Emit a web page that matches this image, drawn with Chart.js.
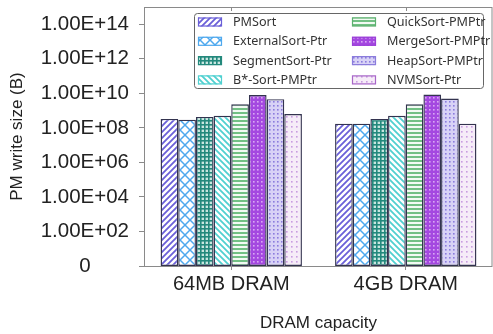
<!DOCTYPE html>
<html>
<head>
<meta charset="utf-8">
<script src="https://cdn.jsdelivr.net/npm/chart.js@4"></script>
<style>
  html, body { margin: 0; padding: 0; background: #fff; }
  #wrap { width: 493px; height: 334px; }
</style>
</head>
<body>
<div id="wrap"><canvas id="myChart" width="493" height="334"></canvas></div>
<script>
/* data */
const CATEGORIES = ['64MB DRAM', '4GB DRAM'];
const LABELS = ['PMSort', 'ExternalSort-Ptr', 'SegmentSort-Ptr', 'B*-Sort-PMPtr',
    'QuickSort-PMPtr', 'MergeSort-PMPtr', 'HeapSort-PMPtr', 'NVMSort-Ptr'];
const pmSort = [3.3e8, 1.75e8];
const externalSort = [3.0e8, 1.75e8];
const segmentSort = [4.3e8, 3.3e8];
const bStarSort = [5.0e8, 5.0e8];
const quickSort = [2.3e9, 2.3e9];
const mergeSort = [7.9e9, 8.5e9];
const heapSort = [4.6e9, 5.0e9];
const nvmSort = [6.3e8, 1.75e8];
const Y_TICKS = [1, 1e2, 1e4, 1e6, 1e8, 1e10, 1e12, 1e14];

// hatch / dot patterns for the bars
function makePattern(kind, color, bg) {
    const size = {diag: 6, back: 6, cross: 10, grid: 4, hline: 4, dots: 4, dotsSparse: 5}[kind];
    const c = document.createElement('canvas');
    c.width = size; c.height = size;
    const g = c.getContext('2d');
    g.fillStyle = bg || '#fff';
    g.fillRect(0, 0, size, size);
    g.strokeStyle = color;
    g.fillStyle = color;
    if (kind === 'diag') {
        g.lineWidth = 1.8;
        g.beginPath();
        g.moveTo(0, size); g.lineTo(size, 0);
        g.moveTo(-size / 2, size / 2); g.lineTo(size / 2, -size / 2);
        g.moveTo(size / 2, size * 1.5); g.lineTo(size * 1.5, size / 2);
        g.stroke();
    } else if (kind === 'back') {
        g.lineWidth = 1.8;
        g.beginPath();
        g.moveTo(0, 0); g.lineTo(size, size);
        g.moveTo(-size / 2, size / 2); g.lineTo(size / 2, size * 1.5);
        g.moveTo(size / 2, -size / 2); g.lineTo(size * 1.5, size / 2);
        g.stroke();
    } else if (kind === 'cross') {
        g.lineWidth = 1.5;
        g.beginPath();
        g.moveTo(0, 0); g.lineTo(size, size);
        g.moveTo(0, size); g.lineTo(size, 0);
        g.stroke();
    } else if (kind === 'grid') {
        g.fillRect(0, 0, size, 1.6);
        g.fillRect(0, 0, 1.6, size);
    } else if (kind === 'hline') {
        g.fillRect(0, 0, size, 2);
    } else if (kind === 'dots' || kind === 'dotsSparse') {
        g.fillRect(1, 1, 1.6, 1.6);
    }
    return g.createPattern(c, 'repeat');
}

const STYLES = [
    {pat: makePattern('diag', '#6a5fd8'), edge: '#6a5fd8'},
    {pat: makePattern('cross', '#4ea8ee'), edge: '#4ea8ee'},
    {pat: makePattern('grid', '#23897c', '#c8e6e0'), edge: '#23897c'},
    {pat: makePattern('back', '#4fd0d0'), edge: '#4fd0d0'},
    {pat: makePattern('hline', '#72c084', '#f2faf3'), edge: '#5cb06e'},
    {pat: makePattern('dots', '#d9a8f4', '#a448e0'), edge: '#9a3fd8'},
    {pat: makePattern('dots', '#8b7cdc', '#d8d2f6'), edge: '#8b7cdc'},
    {pat: makePattern('dotsSparse', '#c89ce0', '#f6ecf8'), edge: '#a866c8'}
];

const SERIES = [pmSort, externalSort, segmentSort, bStarSort, quickSort, mergeSort, heapSort, nvmSort];

const data = {
    labels: CATEGORIES,
    datasets: SERIES.map((vals, i) => ({
        label: LABELS[i],
        data: vals,
        backgroundColor: STYLES[i].pat,
        borderColor: '#33334f',
        borderWidth: 1.4,
        borderSkipped: false,
        categoryPercentage: 0.81,
        barPercentage: 1.0
    }))
};

// frame round the plot + small ticks on the top edge
const framePlugin = {
    id: 'frame',
    afterDraw(chart) {
        const {ctx, chartArea: a} = chart;
        ctx.save();
        ctx.strokeStyle = '#8a8a8a';
        ctx.lineWidth = 1;
        ctx.strokeRect(a.left + 0.5, a.top + 0.5, a.right - a.left - 1.5, a.bottom - a.top);
        const xs = chart.scales.x;
        CATEGORIES.forEach((c, i) => {
            const px = Math.round(xs.getPixelForValue(i)) + 0.5;
            ctx.beginPath();
            ctx.moveTo(px, a.top);
            ctx.lineTo(px, a.top + 4);
            ctx.stroke();
        });
        ctx.restore();
    }
};

// legend box in two columns inside the plot
const legendPlugin = {
    id: 'boxLegend',
    afterDraw(chart) {
        const ctx = chart.ctx;
        const bx = 194, by = 13, bw = 289, bh = 75;
        ctx.save();
        ctx.fillStyle = '#fff';
        ctx.strokeStyle = '#666';
        ctx.lineWidth = 1;
        ctx.beginPath();
        ctx.roundRect(bx + 0.5, by + 0.5, bw, bh, 3);
        ctx.fill();
        ctx.stroke();
        ctx.font = '12.6px "Noto Sans"';
        ctx.textBaseline = 'middle';
        chart.data.datasets.forEach((ds, i) => {
            const col = Math.floor(i / 4), row = i % 4;
            const sx = col === 0 ? 198 : 352;
            const cy = 22 + row * 19.3;
            ctx.fillStyle = ds.backgroundColor;
            ctx.fillRect(sx, cy - 4.5, 24, 9);
            ctx.strokeStyle = STYLES[i].edge;
            ctx.lineWidth = 1.2;
            ctx.strokeRect(sx + 0.5, cy - 4, 23, 8);
            ctx.fillStyle = '#333';
            ctx.fillText(ds.label, sx + 35, cy + 0.5);
        });
        ctx.restore();
    }
};

const options = {
    animation: false,
    responsive: false,
    layout: { padding: { top: 7, right: 0, left: 0, bottom: 0 } },
    scales: {
        x: {
            grid: {
                offset: false,
                drawOnChartArea: false,
                color: '#8a8a8a',
                tickLength: 4
            },
            border: { display: false },
            ticks: {
                color: '#222',
                font: { family: '"Liberation Sans", Arial', size: 20 },
                padding: 2
            },
            title: {
                display: true,
                text: 'DRAM capacity',
                color: '#222',
                font: { family: '"Liberation Sans", Arial', size: 17 },
                padding: { top: 0, bottom: 0 }
            },
            afterFit(scale) { scale.height = 68; }
        },
        y: {
            type: 'logarithmic',
            min: 1,
            max: 1e15,
            grid: {
                drawOnChartArea: false,
                color: '#8a8a8a',
                tickLength: 5
            },
            border: { display: false },
            afterBuildTicks(scale) {
                scale.ticks = Y_TICKS.map(v => ({ value: v }));
            },
            ticks: {
                color: '#222',
                crossAlign: 'center',
                padding: 10,
                font: { family: '"Liberation Sans", Arial', size: 20.5 },
                callback(value) {
                    if (value === 1) return '0';
                    const e = Math.round(Math.log10(value));
                    return '1.00E+' + String(e).padStart(2, '0');
                }
            },
            title: {
                display: true,
                text: 'PM write size (B)',
                color: '#222',
                font: { family: '"Liberation Sans", Arial', size: 17 },
                padding: { top: 7, bottom: 0 }
            },
            afterFit(scale) {
                scale.width = 144;
                scale.paddingTop = 0;
                scale.paddingBottom = 0;
            }
        }
    },
    plugins: {
        legend: { display: false },
        tooltip: { enabled: false }
    }
};

const ctx = document.getElementById('myChart');
const myChart = new Chart(ctx, {
    type: 'bar',
    data,
    options,
    plugins: [framePlugin, legendPlugin]
});
</script>
</body>
</html>
